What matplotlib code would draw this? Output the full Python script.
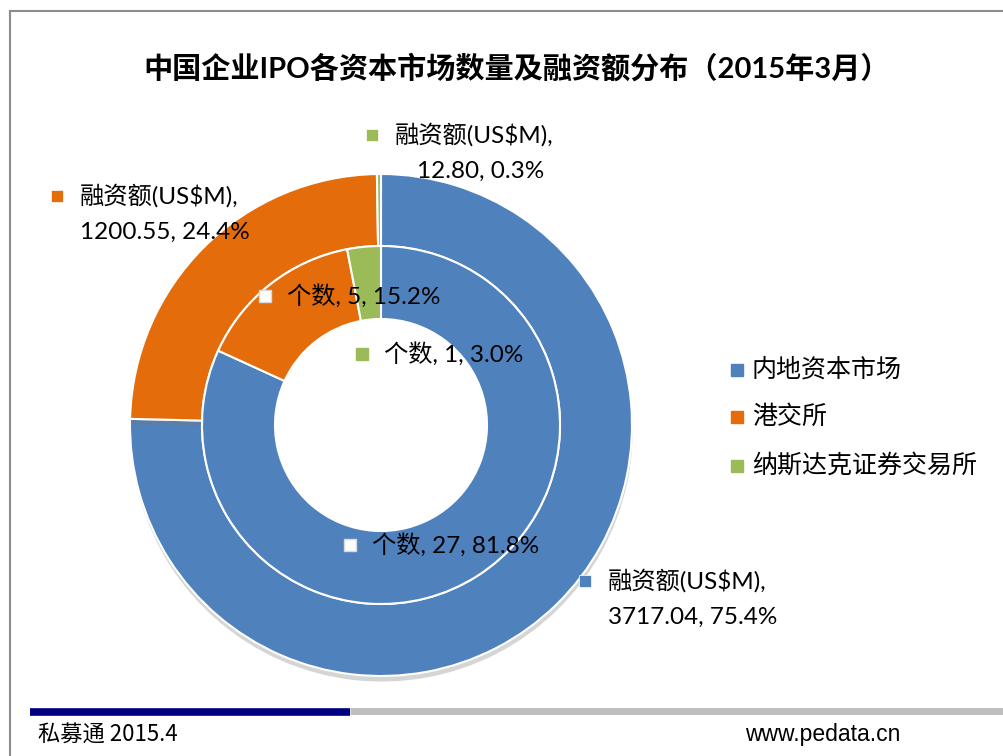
import matplotlib
matplotlib.use("Agg")
import matplotlib.pyplot as plt
import matplotlib.patheffects as pe

plt.rcParams['font.family'] = ['Lato', 'Noto Sans CJK SC', 'DejaVu Sans']

markets = ["内地资本市场", "港交所", "纳斯达克证券交易所"]
colors = ["#4F81BD", "#E46C0A", "#9BBB59"]

amount = [3717.04, 1200.55, 12.80]      # 融资额(US$M)
amount_pct = [75.4, 24.4, 0.3]
count = [27, 5, 1]                      # 个数
count_pct = [81.8, 15.2, 3.0]

W, H = 1004, 756
fig = plt.figure(figsize=(W / 100, H / 100), dpi=100)
ax = fig.add_axes([0, 0, 1, 1])

def yy(y):
    # pixel row from top -> axes y
    return H - y

cx, cy = 381, yy(425)

# outer ring: amount
w1, _ = ax.pie(amount, radius=251, center=(cx, cy), startangle=90, counterclock=False,
               colors=colors, wedgeprops=dict(width=72, edgecolor="white", linewidth=1.5))
for w in w1:
    w.set_path_effects([pe.SimplePatchShadow(offset=(0.5, -4), shadow_rgbFace="#777777", alpha=0.3), pe.Normal()])
# inner ring: count
w2, _ = ax.pie(count, radius=179, center=(cx, cy), startangle=90, counterclock=False,
               colors=colors, wedgeprops=dict(width=73, edgecolor="white", linewidth=1.5))

ax.set_xlim(0, W)
ax.set_ylim(0, H)
ax.set_aspect("equal")
ax.axis("off")

fs = 17.5
# outer labels (two lines)
outer_pos = [(585, 581), (57, 196), (372, 135)]
for i, (mx, my) in enumerate(outer_pos):
    ax.plot(mx, yy(my), marker="s", markersize=9, color=colors[i], mec="white", mew=0.5)
    ax.text(mx + 23, yy(my), "融资额(US$M),", fontsize=fs, va="center", ha="left")
    dx = 45 if i == 2 else 23
    ax.text(mx + dx, yy(my + 36), "%.2f, %.1f%%" % (amount[i], amount_pct[i]),
            fontsize=fs, va="center", ha="left")

# inner labels
inner_pos = [(350, 545), (265, 296), (362, 354)]
for i, (mx, my) in enumerate(inner_pos):
    face = colors[i] if i == 2 else "white"
    ax.plot(mx, yy(my), marker="s", markersize=9, mfc=face, mec=colors[i] if i == 2 else "#d9d9d9", mew=1)
    ax.text(mx + 22, yy(my), "个数, %d, %.1f%%" % (count[i], count_pct[i]),
            fontsize=fs, va="center", ha="left")

# legend
for i, name in enumerate(markets):
    ly = [370, 417, 466][i]
    ax.plot(737, yy(ly), marker="s", markersize=9, color=colors[i])
    ax.text(752, yy(ly), name, fontsize=18, va="center", ha="left", family=["Noto Sans CJK SC"])

# title
ax.text(517, yy(68), "中国企业IPO各资本市场数量及融资额分布（2015年3月）", fontsize=21,
        fontweight="bold", ha="center", va="center", family=["Lato", "Noto Sans CJK SC"])

# frame lines
ax.plot([10, W], [yy(11), yy(11)], color="#8c8c8c", lw=1.5)
ax.plot([10, 10], [yy(11), 0], color="#8c8c8c", lw=1.5)

# footer bars
ax.plot([350, W], [yy(711), yy(711)], color="#bfbfbf", lw=5, solid_capstyle="butt")
ax.plot([30, 350], [yy(712), yy(712)], color="#000080", lw=5.5, solid_capstyle="butt")
ax.text(38, yy(735), "私募通 2015.4", fontsize=16, ha="left", va="center",
        family=["Liberation Sans Narrow", "Noto Sans CJK SC"])
ax.text(745, yy(735), "www.pedata.cn", fontsize=16.5, ha="left", va="center",
        family=["Liberation Sans Narrow", "Liberation Sans"])

fig.savefig("out.png", dpi=100, facecolor="white")
